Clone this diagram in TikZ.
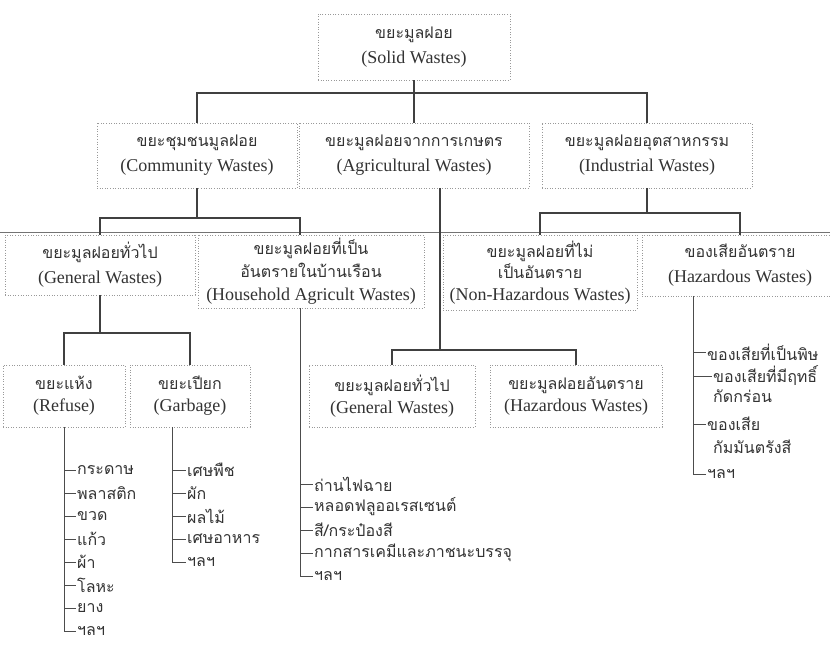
\documentclass[tikz,border=0pt]{standalone}
\usepackage{fontspec}
\setmainfont{Liberation Serif}
\newfontfamily\thaifont[Script=Thai]{Loma}
\newcommand\tht[1]{{\thaifont\fontsize{16}{25}\selectfont #1}}
\tikzset{
  box/.style={draw=black!40, line width=0.7pt, dash pattern=on 1pt off 1.6pt,
    align=center, inner sep=0pt, text=black!80, font=\fontsize{18}{25}\selectfont},
  conn/.style={draw=black!75, line width=1.4pt},
  lconn/.style={draw=black!70, line width=1pt},
  item/.style={anchor=west, inner sep=1pt, text=black!80, font=\thaifont\fontsize{16}{18}\selectfont},
}
\begin{document}
\begin{tikzpicture}[x=1pt,y=-1pt]
\useasboundingbox (0,0) rectangle (830,650);
\fill[white] (0,0) rectangle (830,650);

% level 1
\node[box, minimum width=192, minimum height=66] (solid) at (414,47) {\tht{ขยะมูลฝอย}\\(Solid Wastes)};
% level 2
\node[box, minimum width=200, minimum height=65] (comm) at (197,155.5) {\tht{ขยะชุมชนมูลฝอย}\\(Community Wastes)};
\node[box, minimum width=230, minimum height=65] (agri) at (414,155.5) {\tht{ขยะมูลฝอยจากการเกษตร}\\(Agricultural Wastes)};
\node[box, minimum width=210, minimum height=65] (indu) at (647,155.5) {\tht{ขยะมูลฝอยอุตสาหกรรม}\\(Industrial Wastes)};
% level 3
\node[box, minimum width=190, minimum height=60] (gen3) at (100,265) {\tht{ขยะมูลฝอยทั่วไป}\\(General Wastes)};
\node[box, minimum width=226, minimum height=73, font=\fontsize{18}{23}\selectfont] (house) at (311,271.5) {\tht{ขยะมูลฝอยที่เป็น}\\\tht{อันตรายในบ้านเรือน}\\(Household Agricult Wastes)};
\node[box, minimum width=194, minimum height=75, font=\fontsize{18}{21.5}\selectfont] (nonhaz) at (540,272.5) {\tht{ขยะมูลฝอยที่ไม่}\\\tht{เป็นอันตราย}\\(Non-Hazardous Wastes)};
\node[box, minimum width=196, minimum height=61] (haz3) at (740,265.5) {\tht{ของเสียอันตราย}\\(Hazardous Wastes)};
% level 4
\node[box, minimum width=122, minimum height=62, font=\fontsize{18}{22}\selectfont] (refuse) at (64,396) {\tht{ขยะแห้ง}\\(Refuse)};
\node[box, minimum width=120, minimum height=62, font=\fontsize{18}{22}\selectfont] (garbage) at (190,396) {\tht{ขยะเปียก}\\(Garbage)};
\node[box, minimum width=166, minimum height=62, font=\fontsize{18}{22}\selectfont] (gen4) at (392,396) {\tht{ขยะมูลฝอยทั่วไป}\\(General Wastes)};
\node[box, minimum width=172, minimum height=62, font=\fontsize{18}{22}\selectfont] (haz4) at (576,396) {\tht{ขยะมูลฝอยอันตราย}\\(Hazardous Wastes)};

% full width rule
\coordinate (ruleL) at (0,232);
\coordinate (ruleR) at (830,232);
\draw[black!55, line width=0.8pt] (ruleL) -- (ruleR);

% main connectors
\coordinate (b1) at (414,93);
\draw[conn] (solid.south) -- (b1);
\draw[conn] (comm.north) |- (b1) -| (indu.north);
\draw[conn] (b1) -- (agri.north);

\coordinate (b2) at (197,218);
\coordinate (htop) at ([xshift=-11pt]house.north);
\draw[conn] (comm.south) -- (b2);
\draw[conn] (gen3.north) |- (b2) -| (htop);

\coordinate (b3) at (647,213);
\draw[conn] (indu.south) -- (b3);
\draw[conn] (nonhaz.north) |- (b3) -| (haz3.north);

\coordinate (b4) at (440,350);
\draw[conn] (agri.south -| b4) -- (b4);
\draw[conn] (gen4.north) |- (b4) -| (haz4.north);

\coordinate (b5) at (100,333);
\draw[conn] (gen3.south) -- (b5);
\draw[conn] (refuse.north) |- (b5) -| (garbage.north);

% lists: refuse
\node[item] (r1) at (76,470) {กระดาษ};
\node[item] (r2) at (76,493) {พลาสติก};
\node[item] (r3) at (76,516) {ขวด};
\node[item] (r4) at (76,539) {แก้ว};
\node[item] (r5) at (76,562) {ผ้า};
\node[item] (r6) at (76,585) {โลหะ};
\node[item] (r7) at (76,608) {ยาง};
\node[item] (r8) at (76,631) {ฯลฯ};
\draw[lconn] (refuse.south) |- (r8.west);
\foreach \i in {1,...,7} \draw[lconn] (refuse.south |- r\i.west) -- (r\i.west);

% garbage
\coordinate (gtop) at ([xshift=-18pt]garbage.south);
\node[item] (g1) at (186,470) {เศษพืช};
\node[item] (g2) at (186,493) {ผัก};
\node[item] (g3) at (186,516) {ผลไม้};
\node[item] (g4) at (186,539) {เศษอาหาร};
\node[item] (g5) at (186,562) {ฯลฯ};
\draw[lconn] (gtop) |- (g5.west);
\foreach \i in {1,...,4} \draw[lconn] (gtop |- g\i.west) -- (g\i.west);

% household
\coordinate (hbot) at ([xshift=-11pt]house.south);
\node[item] (h1) at (313,484) {ถ่านไฟฉาย};
\node[item] (h2) at (313,507) {หลอดฟลูออเรสเซนต์};
\node[item] (h3) at (313,530) {สี/กระป๋องสี};
\node[item] (h4) at (313,553) {กากสารเคมีและภาชนะบรรจุ};
\node[item] (h5) at (313,576) {ฯลฯ};
\draw[lconn] (hbot) |- (h5.west);
\foreach \i in {1,...,4} \draw[lconn] (hbot |- h\i.west) -- (h\i.west);

% hazardous
\coordinate (ztop) at ([xshift=-47pt]haz3.south);
\node[item] (z1) at (706,352) {ของเสียที่เป็นพิษ};
\node[item] (z2) at (712,376) {ของเสียที่มีฤทธิ์};
\node[item] (z2b) at (712,396) {กัดกร่อน};
\node[item] (z3) at (706,424) {ของเสีย};
\node[item] (z3b) at (712,447) {กัมมันตรังสี};
\node[item] (z4) at (706,474) {ฯลฯ};
\draw[lconn] (ztop) |- (z4.west);
\foreach \n in {z1,z2,z3} \draw[lconn] (ztop |- \n.west) -- (\n.west);
\end{tikzpicture}
\end{document}
